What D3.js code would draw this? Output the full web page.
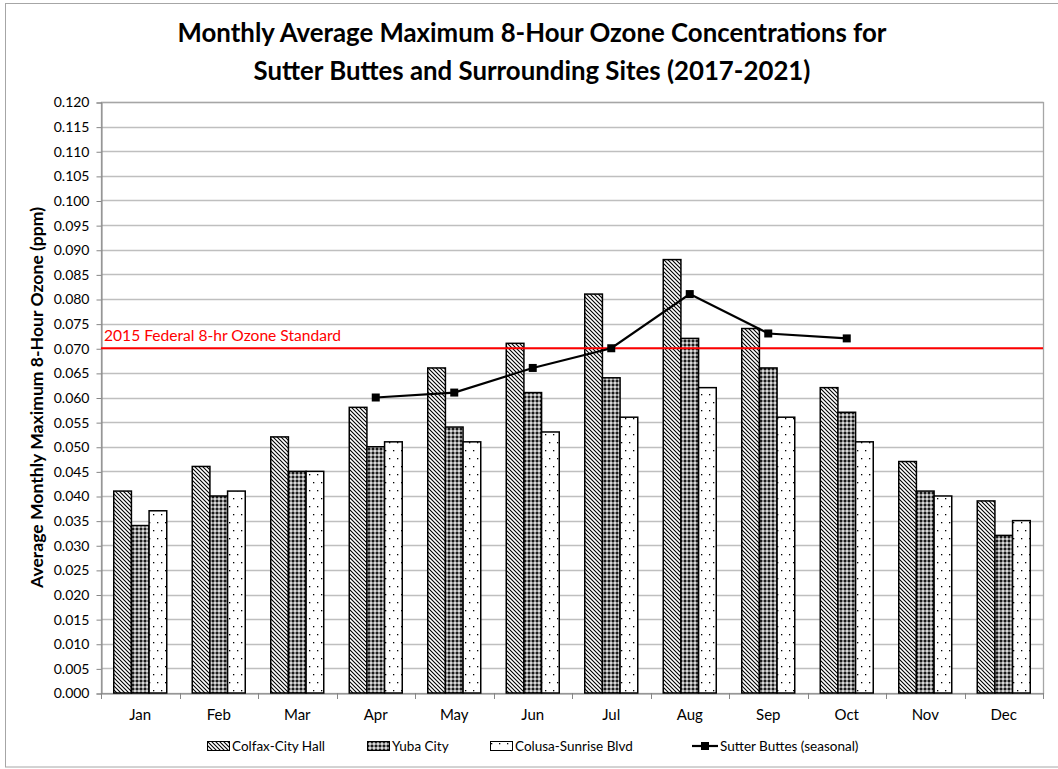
<!DOCTYPE html>
<html>
<head>
<meta charset="utf-8">
<script src="https://cdn.jsdelivr.net/npm/d3@7"></script>
<style>
  body { margin: 0; background: #fff; }
  svg { display: block; font-family: Lato, "Open Sans", sans-serif; }
</style>
</head>
<body>
<svg id="chart" width="1058" height="769"></svg>
<script>
var months = ['Jan','Feb','Mar','Apr','May','Jun','Jul','Aug','Sep','Oct','Nov','Dec'];
var colfax = [0.041,0.046,0.052,0.058,0.066,0.071,0.081,0.088,0.074,0.062,0.047,0.039];
var yuba   = [0.034,0.040,0.045,0.050,0.054,0.061,0.064,0.072,0.066,0.057,0.041,0.032];
var colusa = [0.037,0.041,0.045,0.051,0.051,0.053,0.056,0.062,0.056,0.051,0.040,0.035];
var sutterMonths = ['Apr','May','Jun','Jul','Aug','Sep','Oct'];
var sutter = [0.060,0.061,0.066,0.070,0.081,0.073,0.072];
var seriesNames = ['Colfax-City Hall','Yuba City','Colusa-Sunrise Blvd','Sutter Buttes (seasonal)'];
var yTicks = d3.range(0, 0.1201, 0.005);
var standard = 0.070;
var standardLabel = '2015 Federal 8-hr Ozone Standard';

var svg = d3.select('#chart');
var plot = {left: 101, right: 1043, top: 102, bottom: 693};

// chart frame
svg.append('rect').attr('x', 5.5).attr('y', 3.5).attr('width', 1060).attr('height', 763.5)
    .attr('fill', 'none').attr('stroke', '#a6a6a6');

// fill patterns
var defs = svg.append('defs');
var p1 = defs.append('pattern').attr('id', 'pColfax').attr('patternUnits', 'userSpaceOnUse')
    .attr('width', 4).attr('height', 4);
p1.append('rect').attr('width', 4).attr('height', 4).attr('fill', '#fff');
p1.append('path').attr('d', 'M-1,-1 L5,5 M-1,3 L1,5 M3,-1 L5,1').attr('stroke', '#000').attr('stroke-width', 1.1);

var p2 = defs.append('pattern').attr('id', 'pYuba').attr('patternUnits', 'userSpaceOnUse')
    .attr('width', 4).attr('height', 4);
p2.append('rect').attr('width', 4).attr('height', 4).attr('fill', '#8c8c8c');
p2.append('rect').attr('width', 2).attr('height', 2).attr('fill', '#1a1a1a');
p2.append('rect').attr('x', 2).attr('y', 2).attr('width', 2).attr('height', 2).attr('fill', '#d9d9d9');

var p3 = defs.append('pattern').attr('id', 'pColusa').attr('patternUnits', 'userSpaceOnUse')
    .attr('width', 8).attr('height', 16);
p3.append('rect').attr('width', 8).attr('height', 16).attr('fill', '#fff');
p3.append('rect').attr('x', 1).attr('y', 2).attr('width', 1.3).attr('height', 1.3).attr('fill', '#000');
p3.append('rect').attr('x', 5).attr('y', 10).attr('width', 1.3).attr('height', 1.3).attr('fill', '#000');

var fills = ['url(#pColfax)', 'url(#pYuba)', 'url(#pColusa)'];

// scales
var x = d3.scaleBand().domain(months).range([plot.left, plot.right]);
var xs = d3.scaleBand().domain([0, 1, 2]).range([0, 53]);
var barOffset = (x.bandwidth() - 53) / 2;
var y = d3.scaleLinear().domain([0, 0.120]).range([plot.bottom, plot.top]);

// gridlines
svg.append('g').selectAll('line').data(yTicks.slice(1)).enter().append('line')
    .attr('x1', plot.left).attr('x2', plot.right)
    .attr('y1', function(d) { return Math.round(y(d)) + 0.5; })
    .attr('y2', function(d) { return Math.round(y(d)) + 0.5; })
    .attr('stroke', '#bfbfbf').attr('stroke-width', 1.3);

// plot area border
svg.append('rect').attr('x', plot.left + 0.5).attr('y', plot.top + 0.5)
    .attr('width', plot.right - plot.left).attr('height', plot.bottom - plot.top)
    .attr('fill', 'none').attr('stroke', '#a6a6a6').attr('stroke-width', 1.3);

// y axis
var yAxis = svg.append('g').attr('transform', 'translate(' + (plot.left + 0.5) + ',0.5)')
    .call(d3.axisLeft(y).tickValues(yTicks).tickFormat(d3.format('.3f')).tickSizeOuter(0).tickSize(5).tickPadding(7));
yAxis.select('.domain').attr('stroke', '#868686');
yAxis.selectAll('.tick line').attr('stroke', '#868686');
yAxis.selectAll('text').attr('font-size', 14).attr('fill', '#000').attr('font-family', 'Lato');

// x axis
var xAxis = svg.append('g').attr('transform', 'translate(0,' + (plot.bottom + 0.5) + ')')
    .call(d3.axisBottom(x).tickSize(0).tickPadding(16));
xAxis.select('.domain').attr('stroke', '#868686');
xAxis.selectAll('text').attr('font-size', 15).attr('fill', '#000').attr('font-family', 'Lato');
svg.append('g').selectAll('line').data(d3.range(months.length + 1)).enter().append('line')
    .attr('x1', function(i) { return Math.round(plot.left + i * x.step()) + 0.5; })
    .attr('x2', function(i) { return Math.round(plot.left + i * x.step()) + 0.5; })
    .attr('y1', plot.bottom).attr('y2', plot.bottom + 6)
    .attr('stroke', '#868686');

// bars
var groups = [colfax, yuba, colusa];
groups.forEach(function(vals, si) {
    svg.append('g').selectAll('rect').data(vals).enter().append('rect')
        .attr('x', function(d, i) { return x(months[i]) + barOffset + xs(si); })
        .attr('y', function(d) { return y(d); })
        .attr('width', xs.bandwidth())
        .attr('height', function(d) { return y(0) - y(d); })
        .attr('fill', fills[si])
        .attr('stroke', '#000').attr('stroke-width', 1.5);
});

// standard line
svg.append('line').attr('x1', plot.left).attr('x2', plot.right)
    .attr('y1', y(standard)).attr('y2', y(standard))
    .attr('stroke', '#ff0000').attr('stroke-width', 2.2);
svg.append('text').attr('x', plot.left + 3).attr('y', y(standard) - 7.5)
    .attr('font-size', 15.6).attr('fill', '#ff0000').text(standardLabel);

// sutter line
var line = d3.line()
    .x(function(d, i) { return x(sutterMonths[i]) + x.bandwidth() / 2; })
    .y(function(d) { return y(d); });
svg.append('path').datum(sutter).attr('d', line)
    .attr('fill', 'none').attr('stroke', '#000').attr('stroke-width', 2.2);
svg.append('g').selectAll('rect').data(sutter).enter().append('rect')
    .attr('x', function(d, i) { return x(sutterMonths[i]) + x.bandwidth() / 2 - 4; })
    .attr('y', function(d) { return y(d) - 4; })
    .attr('width', 8).attr('height', 8).attr('fill', '#000');

// title
var title = svg.append('text').attr('x', 532).attr('text-anchor', 'middle')
    .attr('font-size', 25.8).attr('font-weight', 'bold');
title.append('tspan').attr('x', 532).attr('y', 42).text('Monthly Average Maximum 8-Hour Ozone Concentrations for');
title.append('tspan').attr('x', 532).attr('y', 80).text('Sutter Buttes and Surrounding Sites (2017-2021)');

// y axis title
svg.append('text').attr('transform', 'translate(43,' + ((plot.top + plot.bottom) / 2) + ') rotate(-90)')
    .attr('text-anchor', 'middle').attr('font-size', 17.6).attr('font-weight', 'bold')
    .text('Average Monthly Maximum 8-Hour Ozone (ppm)');

// legend
var legendX = [207, 367, 490, 692];
var legend = svg.append('g').attr('font-size', 13.5);
seriesNames.forEach(function(name, i) {
    var g = legend.append('g').attr('transform', 'translate(' + legendX[i] + ',741)');
    if (i < 3) {
        g.append('rect').attr('x', 0.5).attr('y', 0.5).attr('width', 22).attr('height', 9)
            .attr('fill', fills[i]).attr('stroke', '#000').attr('stroke-width', 1);
    } else {
        g.append('line').attr('x1', 0).attr('x2', 26).attr('y1', 5).attr('y2', 5)
            .attr('stroke', '#000').attr('stroke-width', 2.2);
        g.append('rect').attr('x', 9).attr('y', 1).attr('width', 8).attr('height', 8).attr('fill', '#000');
    }
    g.append('text').attr('x', i < 3 ? 25 : 28).attr('y', 10).text(name);
});
</script>
</body>
</html>
